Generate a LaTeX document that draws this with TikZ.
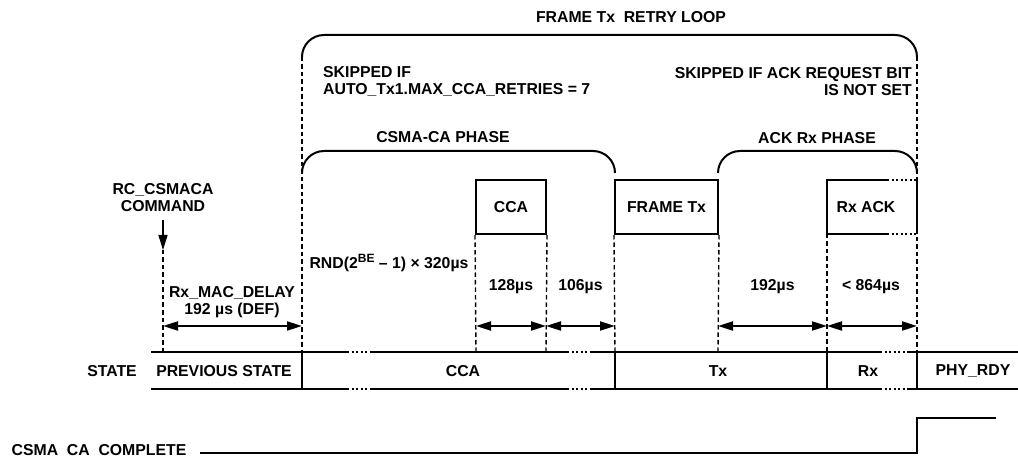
\documentclass[tikz,border=0pt]{standalone}
\usepackage{fontspec}
\setmainfont{Liberation Sans}
\usetikzlibrary{arrows.meta}
\begin{document}
\begin{tikzpicture}[x=1pt,y=-1pt,
  lbl/.style={font=\fontsize{15.8}{17}\selectfont\bfseries, inner sep=0pt, align=center},
  wline/.style={line width=2pt},
  vdash/.style={line width=1.4pt, dash pattern=on 4.5pt off 3pt},
  dotseg/.style={line width=2pt, dash pattern=on 2pt off 2.5pt},
  tip/.tip={Triangle[length=15pt,width=9pt]},
  dim/.style={line width=2pt, tip-tip},
  bracket/.style={line width=2pt, rounded corners=22pt},
  stbox/.style={draw, line width=2pt, inner sep=0pt, font=\fontsize{15.8}{17}\selectfont\bfseries}
]
\useasboundingbox (0,0) rectangle (1018,457);

% ---------- outer retry loop ----------
\node[lbl] (title) at (631,17) {FRAME Tx\ \ RETRY LOOP};
\coordinate (oL) at (302,57);
\coordinate (oR) at (917,57);
\draw[bracket] (oL) -- (302,35) -- (917,35) -- (oR);
\node[lbl, align=left, anchor=west] (skip1) at (323,81.5) {SKIPPED IF\\AUTO\_Tx1.MAX\_CCA\_RETRIES = 7};
\node[lbl, align=right, anchor=east] (skip2) at (912,81.5) {SKIPPED IF ACK REQUEST BIT\\IS NOT SET};

% ---------- phase brackets ----------
\node[lbl] (csmaph) at (443,137) {CSMA-CA PHASE};
\coordinate (cL) at (302,173);
\coordinate (cR) at (615,173);
\draw[bracket] (cL) -- (302,151) -- (615,151) -- (cR);
\node[lbl] (ackph) at (817,138) {ACK Rx PHASE};
\coordinate (aL) at (718,173);
\coordinate (aR) at (917,173);
\draw[bracket] (aL) -- (718,151) -- (917,151) -- (aR);

% ---------- activity boxes ----------
\node[stbox, minimum width=70pt, minimum height=54pt] (cca) at (511,207) {CCA};
\node[stbox, minimum width=103pt, minimum height=54pt] (ftx) at (666.5,207) {FRAME Tx};
\node[lbl] (rxack) at (866,207) {Rx ACK};
\coordinate (rxTL) at (827,180);
\coordinate (rxBL) at (827,234);
\coordinate (rxTM) at (887,180);
\coordinate (rxBM) at (887,234);
\coordinate (rxTR) at (917,180);
\coordinate (rxBR) at (917,234);
\draw[wline] (rxTM) -- (rxTL) -- (rxBL) -- (rxBM);
\draw[dotseg] (rxTM) -- (rxTR);
\draw[dotseg] (rxBM) -- (rxBR);
\draw[wline] (rxTR) -- (rxBR);

% ---------- state row coordinates ----------
\coordinate (t163) at (163,352);
\coordinate (t302) at (302,352);
\coordinate (t476) at (476,352);
\coordinate (t546) at (546,352);
\coordinate (t615) at (615,352);
\coordinate (t718) at (718,352);
\coordinate (t827) at (827,352);
\coordinate (t917) at (917,352);
\coordinate (b302) at (302,389);
\coordinate (b615) at (615,389);
\coordinate (b827) at (827,389);
\coordinate (b917) at (917,389);

% ---------- dashed markers ----------
\draw[vdash] (oL) -- (t302);
\draw[vdash] (oR) -- (t917);
\draw[vdash] (cca.south west) -- (t476);
\draw[vdash] (cca.south east) -- (t546);
\draw[vdash] (ftx.south west) -- (t615);
\draw[vdash] (ftx.south east) -- (t718);
\draw[vdash] (rxBL) -- (t827);

% ---------- command ----------
\node[lbl] (cmd) at (163,198) {RC\_CSMACA\\COMMAND};
\coordinate (cmdA) at (163,220);
\coordinate (cmdB) at (163,250);
\draw[line width=1.5pt, -tip] (cmdA) -- (cmdB);
\draw[vdash] (cmdB) -- (t163);

% ---------- timing labels ----------
\node[lbl] (delay) at (232,302) {Rx\_MAC\_DELAY\\192 µs (DEF)};
\node[lbl] (rnd) at (389,263) {RND(2\raisebox{5.5pt}{\fontsize{12}{12}\selectfont BE} – 1) × 320µs};
\node[lbl] (d128) at (511,287) {128µs};
\node[lbl] (d106) at (580.5,287) {106µs};
\node[lbl] (d192) at (772.5,287) {192µs};
\node[lbl] (d864) at (871,287) {< 864µs};

% ---------- dimension arrows ----------
\coordinate (m163) at (163,326);
\coordinate (m302) at (302,326);
\coordinate (m476) at (476,326);
\coordinate (m546) at (546,326);
\coordinate (m615) at (615,326);
\coordinate (m718) at (718,326);
\coordinate (m827) at (827,326);
\coordinate (m917) at (917,326);
\draw[dim] (m163) -- (m302);
\draw[dim] (m476) -- (m546);
\draw[dim] (m546) -- (m615);
\draw[dim] (m718) -- (m827);
\draw[dim] (m827) -- (m917);

% ---------- state row ----------
\foreach \y in {352,389}{
  \draw[wline] (151,\y) -- (347,\y);
  \draw[dotseg] (347,\y) -- (370,\y);
  \draw[wline] (370,\y) -- (567,\y);
  \draw[dotseg] (567,\y) -- (590,\y);
  \draw[wline] (590,\y) -- (880,\y);
  \draw[dotseg] (880,\y) -- (908,\y);
  \draw[wline] (908,\y) -- (1018,\y);
}
\draw[wline] (t302) -- (b302);
\draw[wline] (t615) -- (b615);
\draw[wline] (t827) -- (b827);
\draw[wline] (t917) -- (b917);

\node[lbl] (state) at (112,371) {STATE};
\node[lbl] (prev) at (224,371) {PREVIOUS STATE};
\node[lbl] (scca) at (463,371) {CCA};
\node[lbl] (stx) at (718,371) {Tx};
\node[lbl] (srx) at (868,371) {Rx};
\node[lbl] (sphy) at (973,371) {PHY\_RDY};

% ---------- complete signal ----------
\node[lbl] (compl) at (99,450) {CSMA\ \ CA\ \ COMPLETE};
\coordinate (sig0) at (200,453);
\coordinate (sig1) at (917,453);
\coordinate (sig2) at (917,418);
\coordinate (sig3) at (996,418);
\draw[line width=2.2pt] (sig0) -- (sig1) -- (sig2) -- (sig3);
\end{tikzpicture}
\end{document}
